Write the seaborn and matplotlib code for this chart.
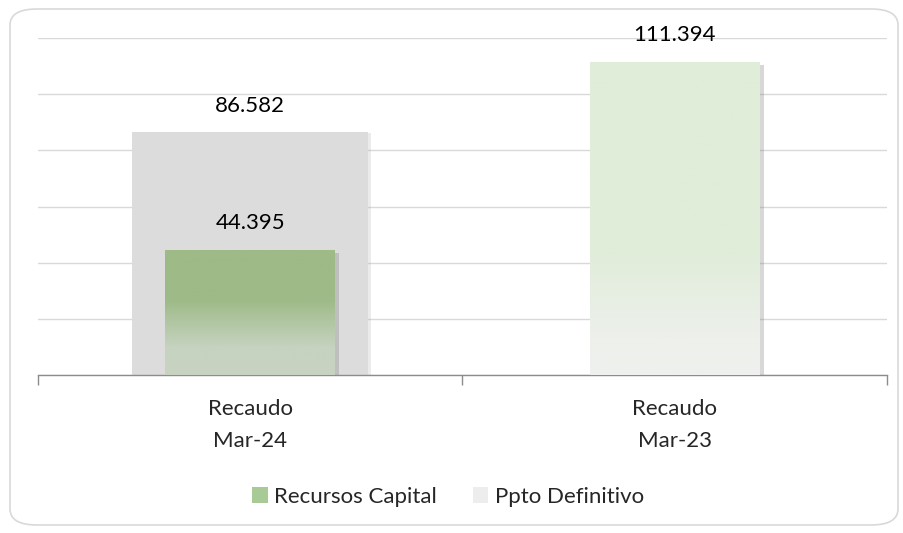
import numpy as np
import pandas as pd
import seaborn as sns
import matplotlib
matplotlib.use("Agg")
import matplotlib.pyplot as plt
from matplotlib.colors import LinearSegmentedColormap
from matplotlib.patches import Patch, FancyBboxPatch
import matplotlib.patheffects as pe

categories = ["Recaudo\nMar-24", "Recaudo\nMar-23"]
ppto_definitivo = [86.582, np.nan]
recursos_capital = [44.395, 111.394]
value_labels_ppto = ["86.582", ""]
value_labels_rec = ["44.395", "111.394"]

sns.set_theme(style="white")
plt.rcParams["font.family"] = ["Lato", "DejaVu Sans"]

fig = plt.figure(figsize=(9.04, 5.33), dpi=100)
ax = fig.add_axes([38 / 904, 1 - 375 / 533, (887 - 38) / 904, (375 - 38) / 533])

# outer rounded frame
frame = FancyBboxPatch((10 / 904, 8 / 533), 888 / 904, 516 / 533,
                       boxstyle="round,pad=0,rounding_size=0.03",
                       transform=fig.transFigure, facecolor="white",
                       edgecolor="#D9D9D9", linewidth=1.2, zorder=-10)
fig.patches.append(frame)

df_p = pd.DataFrame({"cat": categories, "val": ppto_definitivo})
df_r = pd.DataFrame({"cat": categories, "val": recursos_capital})

sns.barplot(data=df_p, x="cat", y="val", color="#DCDCDC", width=0.555,
            ax=ax, zorder=2)
n_p = len(ax.patches)
sns.barplot(data=df_r, x="cat", y="val", hue="cat", palette=["#9DBA87", "#E0EDD9"],
            width=0.40, legend=False, ax=ax, zorder=3)

ppto_bars = ax.patches[:n_p]
rec_bars = ax.patches[n_p:]

shadow = [pe.SimplePatchShadow(offset=(3, -2), shadow_rgbFace="#7F7F7F", alpha=0.3),
          pe.Normal()]

gradients = [
    [(0, "#9DBA87"), (0.4, "#9EBA88"), (0.78, "#C6D3C0"), (1, "#C8D3C1")],
    [(0, "#E0EDD9"), (0.62, "#E1EDDA"), (0.88, "#EDF0EB"), (1, "#EFF0EE")],
]

for bar in ppto_bars:
    if np.isnan(bar.get_height()):
        continue
    bar.set_path_effects([pe.SimplePatchShadow(offset=(2, -1), shadow_rgbFace="#B0B0B0", alpha=0.25),
                          pe.Normal()])
    bar.set_edgecolor("none")

grad = np.linspace(0, 1, 256).reshape(-1, 1)
for bar, stops in zip(rec_bars, gradients):
    bar.set_path_effects(shadow)
    bar.set_edgecolor("none")
    cmap = LinearSegmentedColormap.from_list("g", stops)
    x0, y0 = bar.get_x(), bar.get_y()
    x1, y1 = x0 + bar.get_width(), y0 + bar.get_height()
    im = ax.imshow(grad, cmap=cmap, extent=(x0, x1, y0, y1), origin="upper",
                   aspect="auto", zorder=3.5)
    im.set_clip_path(bar)

# value labels
for bar, lab in zip(ppto_bars, value_labels_ppto):
    if lab:
        ax.annotate(lab, (bar.get_x() + bar.get_width() / 2, bar.get_height()),
                    xytext=(0, 18.5), textcoords="offset points", ha="center",
                    va="center", fontsize=16, color="#000000")
for bar, lab in zip(rec_bars, value_labels_rec):
    ax.annotate(lab, (bar.get_x() + bar.get_width() / 2, bar.get_height()),
                xytext=(0, 19.5), textcoords="offset points", ha="center",
                va="center", fontsize=16, color="#000000")

ax.set_xlim(-0.5, 1.5)
ax.set_ylim(0, 120)
ax.set_yticks(np.arange(0, 121, 20))
ax.set_yticklabels([])
ax.yaxis.grid(True, color="#D9D9D9", linewidth=1)
ax.set_axisbelow(True)
ax.tick_params(axis="y", length=0)

ax.set_xticks([-0.5, 0.5, 1.5], minor=True)
ax.tick_params(axis="x", which="minor", length=7, direction="out", color="#8C8C8C",
               width=1, bottom=True)
ax.tick_params(axis="x", which="major", length=0, pad=17, labelsize=16)
ax.set_xticks([0, 1])
ax.set_xticklabels(categories, linespacing=1.75, fontsize=16)
ax.set_xlabel("")
ax.set_ylabel("")

for s in ["top", "left", "right"]:
    ax.spines[s].set_visible(False)
ax.spines["bottom"].set_color("#8C8C8C")
ax.spines["bottom"].set_linewidth(1)
ax.patch.set_alpha(0)

handles = [Patch(facecolor="#A8CA96", edgecolor="none", label="Recursos Capital"),
           Patch(facecolor="#EDEDED", edgecolor="none", label="Ppto Definitivo")]
fig.legend(handles=handles, loc="center", bbox_to_anchor=(448 / 904, 1 - 497 / 533),
           ncol=2, frameon=False, fontsize=16, handlelength=0.7, handleheight=0.7,
           handletextpad=0.3, columnspacing=1.6)

fig.savefig("out.png", dpi=100)
